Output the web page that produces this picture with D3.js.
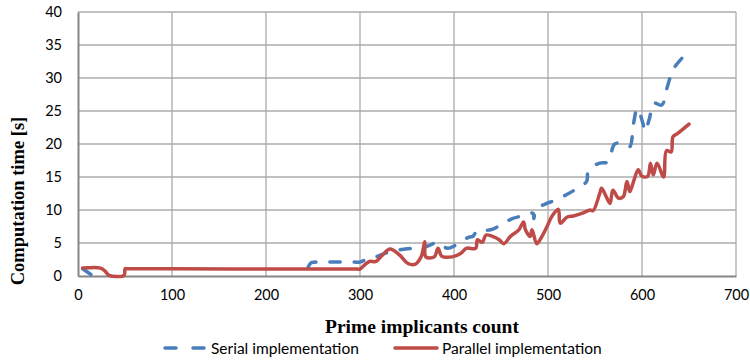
<!DOCTYPE html>
<html>
<head>
<meta charset="utf-8">
<script src="https://cdn.jsdelivr.net/npm/d3@7"></script>
<style>
  body { margin: 0; background: #fff; }
  svg { display: block; }
</style>
</head>
<body>
<script>
// values (x = prime implicants count, y = seconds)
const serialX = [5, 15, null, 245, 248, 252, 297, 300, 305, 315, 319, 333, 356, 365, 375, 382, 393, 402, 416, 420, 425, 439, 453, 462, 476, 484, 485, 487, 497, 508, 522, 529, 541, 543, 555, 564, 571, 582, 587, 591, 595, 601, 603, 608, 612, 621, 626, 631, 635, 645]
const serialY = [1.1, 0.1, null, 1.4, 2.0, 2.1, 2.1, 2.1, 2.4, 2.8, 3.0, 3.7, 4.2, 4.2, 4.7, 5.1, 4.2, 4.7, 5.9, 6.0, 6.9, 7.0, 8.0, 8.7, 9.2, 9.5, 8.7, 10.1, 10.9, 11.5, 12.5, 13.1, 14.3, 16.1, 17.1, 17.3, 20.0, 20.0, 19.6, 23.1, 25.4, 23.1, 21.9, 23.9, 26.2, 25.9, 28.2, 30.5, 31.7, 33.4]

const parallelX = [5, 24, 29, 33, 49, 50, 52, 100, 200, 297, 300, 305, 310, 317, 324, 332, 342, 351, 359, 365, 369, 370, 379, 383, 387, 398, 407, 413, 423, 425, 430, 434, 441, 448, 453, 460, 469, 474, 476, 481, 483, 488, 492, 499, 504, 511, 513, 520, 527, 536, 545, 548, 555, 557, 561, 566, 569, 575, 580, 584, 587, 591, 596, 600, 606, 609, 612, 616, 623, 626, 631, 633, 638, 650]
const parallelY = [1.2, 1.2, 0.7, 0.1, 0.1, 1.1, 1.1, 1.1, 1.05, 1.05, 1.05, 1.7, 2.2, 2.2, 3.2, 4.1, 3.2, 1.9, 1.8, 2.9, 5.2, 2.9, 2.9, 4.2, 3.0, 2.9, 3.4, 4.2, 4.2, 5.5, 5.1, 6.2, 6.0, 5.5, 4.9, 6.0, 7.0, 8.2, 7.0, 6.0, 7.0, 4.9, 5.6, 7.5, 9.0, 10.1, 8.0, 8.9, 9.1, 9.5, 10.0, 9.9, 12.5, 13.3, 12.3, 11.0, 13.0, 11.8, 12.0, 14.3, 12.8, 14.3, 16.1, 15.1, 15.1, 17.1, 15.3, 17.1, 15.0, 19.0, 18.8, 21.1, 21.6, 23.0]

const xTicks = [0, 100, 200, 300, 400, 500, 600, 700]
const yTicks = [0, 5, 10, 15, 20, 25, 30, 35, 40]
const seriesNames = ['Serial implementation', 'Parallel implementation']

const width = 750
const height = 360
const plotLeft = 78, plotRight = 736, plotTop = 12, plotBottom = 276

const svg = d3.select('body')
    .append('svg')
    .attr('width', width)
    .attr('height', height)

const xScale = d3.scaleLinear()
    .domain([0, 700])
    .range([plotLeft, plotRight])

const yScale = d3.scaleLinear()
    .domain([0, 40])
    .range([plotBottom, plotTop])

// gridlines
svg.append('g')
    .selectAll('line')
    .data(yTicks.filter(d => d > 0))
    .join('line')
    .attr('x1', plotLeft).attr('x2', plotRight)
    .attr('y1', d => yScale(d)).attr('y2', d => yScale(d))
    .attr('stroke', '#ababab').attr('stroke-width', 1.3)

svg.append('g')
    .selectAll('line')
    .data(xTicks.filter(d => d > 0))
    .join('line')
    .attr('x1', d => xScale(d)).attr('x2', d => xScale(d))
    .attr('y1', plotTop).attr('y2', plotBottom)
    .attr('stroke', '#ababab').attr('stroke-width', 1.3)

// axes
const xAxis = d3.axisBottom(xScale).tickValues(xTicks).tickSize(0).tickPadding(14)
const yAxis = d3.axisLeft(yScale).tickValues(yTicks).tickSize(0).tickPadding(16)

const gx = svg.append('g')
    .attr('transform', `translate(0, ${plotBottom})`)
    .call(xAxis)
const gy = svg.append('g')
    .attr('transform', `translate(${plotLeft}, 0)`)
    .call(yAxis)

for (const g of [gx, gy]) {
    g.select('.domain').attr('stroke', '#868686').attr('stroke-width', 2)
    g.selectAll('text')
        .style('font-family', 'Lato, "Liberation Sans", sans-serif')
        .style('font-size', '14.5px')
        .attr('fill', '#000')
}

// series
const line = d3.line()
    .defined(d => d[1] != null)
    .x(d => xScale(d[0]))
    .y(d => yScale(d[1]))
    .curve(d3.curveCatmullRom.alpha(0.5))

const serial = serialX.map((x, i) => [x, serialY[i]])
const parallel = parallelX.map((x, i) => [x, parallelY[i]])

svg.append('path')
    .datum(serial)
    .attr('d', line)
    .attr('fill', 'none')
    .attr('stroke', '#4a7ebb')
    .attr('stroke-width', 3.5)
    .attr('stroke-dasharray', '10,14')
    .attr('stroke-linecap', 'round')

svg.append('path')
    .datum(parallel)
    .attr('d', line)
    .attr('fill', 'none')
    .attr('stroke', '#be4b48')
    .attr('stroke-width', 3.5)
    .attr('stroke-linejoin', 'round')
    .attr('stroke-linecap', 'round')

// titles
svg.append('text')
    .attr('x', 422).attr('y', 333)
    .attr('text-anchor', 'middle')
    .style('font-family', '"Liberation Serif", "Times New Roman", serif')
    .style('font-weight', 'bold')
    .style('font-size', '19.5px')
    .text('Prime implicants count')

svg.append('text')
    .attr('transform', 'translate(24, 201) rotate(-90)')
    .attr('text-anchor', 'middle')
    .style('font-family', '"Liberation Serif", "Times New Roman", serif')
    .style('font-weight', 'bold')
    .style('font-size', '18.5px')
    .text('Computation time [s]')

// legend
const legend = svg.append('g')
legend.append('line')
    .attr('x1', 165).attr('x2', 204).attr('y1', 348).attr('y2', 348)
    .attr('stroke', '#4a7ebb').attr('stroke-width', 3.5)
    .attr('stroke-dasharray', '11,17').attr('stroke-linecap', 'round')
legend.append('line')
    .attr('x1', 395).attr('x2', 437).attr('y1', 348).attr('y2', 348)
    .attr('stroke', '#be4b48').attr('stroke-width', 3.5)
    .attr('stroke-linecap', 'round')
legend.selectAll('text')
    .data(seriesNames)
    .join('text')
    .attr('x', (d, i) => i === 0 ? 211 : 442)
    .attr('y', 353.5)
    .style('font-family', 'Lato, "Liberation Sans", sans-serif')
    .style('font-size', '15.5px')
    .text(d => d)
</script>
</body>
</html>
